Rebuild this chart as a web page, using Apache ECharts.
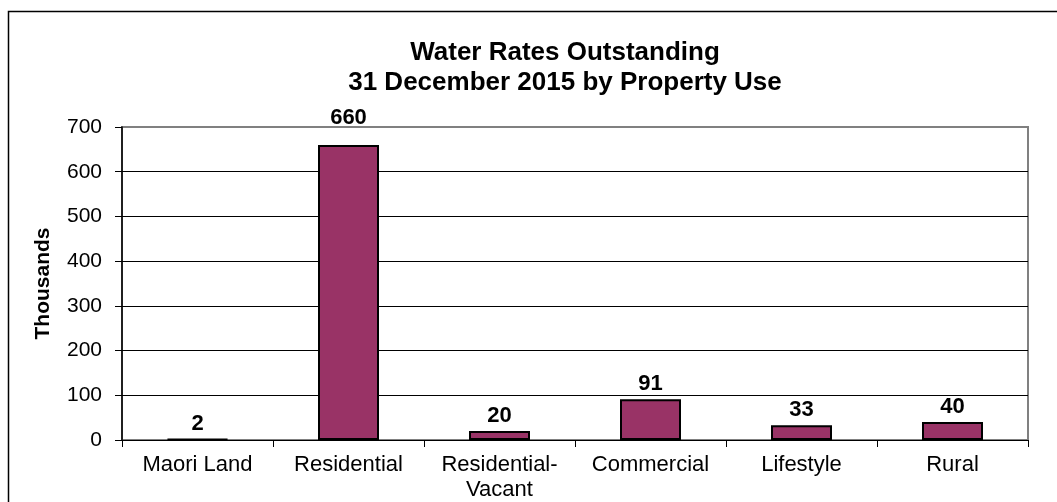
<!DOCTYPE html>
<html>
<head>
<meta charset="utf-8">
<script src="https://cdn.jsdelivr.net/npm/echarts@6/dist/echarts.min.js"></script>
<style>
html,body{margin:0;padding:0;background:#fff;}
#chart{width:1057px;height:502px;}
</style>
</head>
<body>
<div id="chart"></div>
<script>
var titleLines = ['Water Rates Outstanding', '31 December 2015 by Property Use'];
var yAxisTitle = 'Thousands';
var categories = ['Maori Land', 'Residential', 'Residential-\nVacant', 'Commercial', 'Lifestyle', 'Rural'];
var values = [2, 660, 20, 91, 33, 40];
var yTicks = [0, 100, 200, 300, 400, 500, 600, 700];

var FONT = '"Liberation Sans", Arial, sans-serif';
var chart = echarts.init(document.getElementById('chart'), null, {renderer: 'canvas'});

var splitColors = yTicks.map(function (t, i) { return i === yTicks.length - 1 ? 'rgba(0,0,0,0)' : '#000'; });

var barData = values.map(function (v, i) {
  var item = {value: v};
  if (i === 1) item.label = {distance: 16};
  return item;
});

chart.setOption({
  animation: false,
  backgroundColor: '#fff',
  graphic: [{
    type: 'rect',
    shape: {x: 8.5, y: 11.5, width: 1200, height: 700},
    style: {fill: 'none', stroke: '#000', lineWidth: 1.5},
    silent: true
  }],
  title: {
    text: titleLines.join('\n'),
    left: 560,
    top: 33,
    textAlign: 'center',
    textStyle: {fontFamily: FONT, fontSize: 26, fontWeight: 'bold', color: '#000', lineHeight: 30}
  },
  grid: {
    left: 122, top: 127, right: 29, bottom: 60,
    show: true, borderColor: '#808080', borderWidth: 2, backgroundColor: 'transparent'
  },
  xAxis: {
    type: 'category',
    data: categories,
    boundaryGap: true,
    axisLine: {lineStyle: {color: '#000', width: 1}},
    axisTick: {show: true, length: 7, inside: false, alignWithLabel: false, lineStyle: {color: '#000'}},
    axisLabel: {fontFamily: FONT, fontSize: 22, color: '#000', margin: 12, lineHeight: 25, interval: 0}
  },
  yAxis: {
    type: 'value',
    min: yTicks[0], max: yTicks[yTicks.length - 1], interval: 100,
    name: yAxisTitle,
    nameLocation: 'middle',
    nameGap: 68,
    nameTextStyle: {fontFamily: FONT, fontSize: 21, fontWeight: 'bold', color: '#000'},
    axisLine: {show: true, lineStyle: {color: '#000', width: 1.5}},
    axisTick: {show: true, length: 7, lineStyle: {color: '#000'}},
    axisLabel: {fontFamily: FONT, fontSize: 21, color: '#000', margin: 20},
    splitLine: {show: true, lineStyle: {color: splitColors, width: 1}}
  },
  series: [{
    type: 'bar',
    data: barData,
    barWidth: 61,
    itemStyle: {color: '#993366', borderColor: '#000', borderWidth: 2},
    label: {show: true, position: 'top', distance: 4, fontFamily: FONT, fontSize: 22, fontWeight: 'bold', color: '#000'}
  }]
});
</script>
</body>
</html>
